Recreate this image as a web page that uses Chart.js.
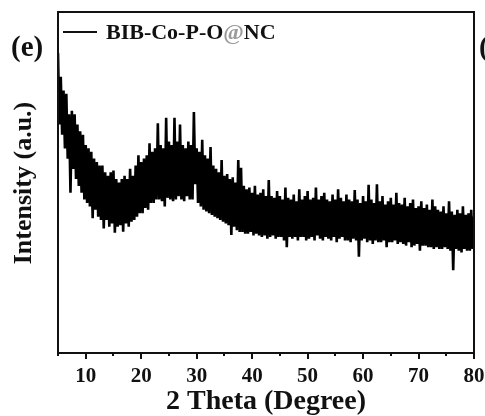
<!DOCTYPE html>
<html>
<head>
<meta charset="utf-8">
<script src="https://cdn.jsdelivr.net/npm/chart.js@4.4.1/dist/chart.umd.min.js"></script>
<style>
    html, body { margin: 0; padding: 0; background: #fff; }
    #wrap { width: 485px; height: 416px; position: relative; }
</style>
</head>
<body>
<div id="wrap"><canvas id="xrdChart"></canvas></div>
<script>
// XRD scan: 2 theta from 5 to 80 degrees, one reading every 0.25 degree
const seriesLabel = 'BIB-Co-P-O@NC';
const twoThetaStart = 5;
const twoThetaStep = 0.25;
const xTickValues = [5, 10, 15, 20, 25, 30, 35, 40, 45, 50, 55, 60, 65, 70, 75, 80];
const xTickLabels = ['', '10', '', '20', '', '30', '', '40', '', '50', '', '60', '', '70', '', '80'];

// intensity (a.u.), four readings per degree
const intensity = [
    88, 67, 81, 64,      77, 60, 76, 57,      70, 47, 71, 54,      70, 51, 67, 49,
    65, 47, 64, 45,      61, 44, 60, 43,      59, 39.5, 57, 42,    56, 40, 55, 39,
    55, 36.5, 53, 39,    52, 37, 53, 38,      53.5, 35.3, 51, 37,  50, 37.5, 51, 35.6,
    52, 38, 51, 37,      54, 38.5, 52, 39,    55, 40, 58, 41,      56, 41, 57, 42.5,
    58, 42, 61.5, 44,    59, 44, 60, 45,      67.4, 45, 61, 44.5,  60, 43, 69, 45.5,
    62, 45, 61, 44.5,    69, 45, 62, 46,      67, 45, 61, 44.5,    60, 46, 62, 45,
    61, 45, 70.7, 49.5,  60, 44, 59, 43,      62.5, 42, 58, 41.5,  57, 41, 60.4, 40.5,
    55, 40, 54, 39.5,    53, 39, 56.6, 38.5,  52, 38, 52.5, 37.5,  51, 34.6, 51.5, 37,
    50, 36, 56.6, 35.5,  54.3, 35.5, 49, 35,  48, 35, 48.5, 35.5,  47, 34.5, 49, 35,
    46.5, 34.5, 47, 34,  48, 34.5, 46, 33.5,  50.7, 34, 46, 34.5,  45.5, 33.5, 47.5, 34,
    46, 34, 45, 33,      48.5, 31, 45.5, 34,  45, 33.5, 46.5, 34,  44.5, 33, 48, 34,
    45, 34, 46, 33,      47.5, 33.5, 45, 34,  45.5, 33, 48.5, 34.5, 45, 33.5, 46, 33,
    47, 34, 45, 33.5,    44.5, 33, 46.5, 34,  45, 32.5, 48, 33.5,  45.5, 34, 44.5, 33,
    46.5, 33, 45, 32.5,  44.5, 33.5, 47.8, 33, 45, 28.2, 44, 33,   46, 33.5, 44.5, 32.5,
    49.3, 33, 45, 32,    44, 33, 49.5, 32.5,  44.5, 32.5, 46, 33,  43.5, 31, 44.5, 32.5,
    45.5, 32.5, 43.5, 33, 47, 32, 44, 32.5,   43.5, 32, 45.5, 31.5, 43, 32.5, 44, 31,
    45, 31.5, 42.5, 32,  43, 30, 44.5, 31.5,  42.5, 31.5, 43.5, 31, 42, 31, 45, 30.5,
    43, 31, 42, 30.5,    41.5, 30.5, 43, 31,  41, 30.5, 44.5, 30,  41.5, 24.3, 40.5, 30.5,
    42, 30, 41, 29.5,    43, 30.5, 40.5, 30,  41, 30, 42, 30.5,
    40
];

const serifFont = "'Liberation Serif', 'Times New Roman', serif";

const points = intensity.map((v, i) => ({ x: twoThetaStart + i * twoThetaStep, y: v }));

// frame, tick marks, y title, panel letters and the inset legend
const decorations = {
    id: 'decorations',
    afterDraw(chart) {
        const { ctx, chartArea } = chart;
        const xScale = chart.scales.x;
        ctx.save();

        ctx.strokeStyle = '#111';
        ctx.lineWidth = 2;
        ctx.strokeRect(chartArea.left, chartArea.top, chartArea.right - chartArea.left, chartArea.bottom - chartArea.top);

        ctx.lineWidth = 2;
        xTickValues.forEach((v, i) => {
            const px = Math.round(xScale.getPixelForValue(v));
            const len = xTickLabels[i] ? 6 : 3;
            ctx.beginPath();
            ctx.moveTo(px, chartArea.bottom);
            ctx.lineTo(px, chartArea.bottom + len);
            ctx.stroke();
        });

        ctx.fillStyle = '#111';
        ctx.textBaseline = 'alphabetic';

        // y axis title
        ctx.save();
        ctx.translate(31, 183);
        ctx.rotate(-Math.PI / 2);
        ctx.textAlign = 'center';
        ctx.font = "bold 26px " + serifFont;
        ctx.fillText('Intensity (a.u.)', 0, 0);
        ctx.restore();

        // panel letters
        ctx.textAlign = 'left';
        ctx.font = "bold 29px " + serifFont;
        ctx.fillText('(e)', 11, 56);
        ctx.fillText('(f)', 479, 56);

        // legend
        ctx.lineWidth = 2;
        ctx.beginPath();
        ctx.moveTo(63, 32);
        ctx.lineTo(97, 32);
        ctx.stroke();
        ctx.font = "bold 22px " + serifFont;
        const parts = [['BIB-Co-P-O', '#111'], ['@', '#9a9a9a'], ['NC', '#111']];
        let tx = 106;
        parts.forEach(([t, c]) => {
            ctx.fillStyle = c;
            ctx.fillText(t, tx, 39);
            tx += ctx.measureText(t).width;
        });

        ctx.restore();
    }
};

new Chart(document.getElementById('xrdChart'), {
    type: 'line',
    data: {
        datasets: [{
            label: seriesLabel,
            data: points,
            borderColor: '#000',
            borderWidth: 2.6,
            borderJoinStyle: 'miter',
            pointRadius: 0,
            tension: 0,
            fill: false
        }]
    },
    options: {
        responsive: true,
        maintainAspectRatio: false,
        animation: false,
        layout: {
            padding: { left: 58, right: 11, top: 12, bottom: 0 }
        },
        scales: {
            x: {
                type: 'linear',
                min: 5,
                max: 80,
                afterBuildTicks: (scale) => {
                    scale.ticks = xTickValues.map(v => ({ value: v }));
                },
                afterFit: (scale) => {
                    scale.height = 63;
                    scale.paddingLeft = 0;
                    scale.paddingRight = 0;
                },
                grid: { display: false, drawTicks: false },
                border: { display: false },
                ticks: {
                    autoSkip: false,
                    maxRotation: 0,
                    padding: 13,
                    color: '#111',
                    font: { family: serifFont, size: 21, weight: 'bold', lineHeight: 1 },
                    callback: (value, index) => xTickLabels[index]
                },
                title: {
                    display: true,
                    text: '2 Theta (Degree)',
                    color: '#111',
                    padding: { top: 3, bottom: 0 },
                    font: { family: serifFont, size: 28, weight: 'bold', lineHeight: 1 }
                }
            },
            y: {
                display: false,
                min: 0,
                max: 100
            }
        },
        plugins: {
            legend: { display: false },
            tooltip: { enabled: false }
        }
    },
    plugins: [decorations]
});
</script>
</body>
</html>
